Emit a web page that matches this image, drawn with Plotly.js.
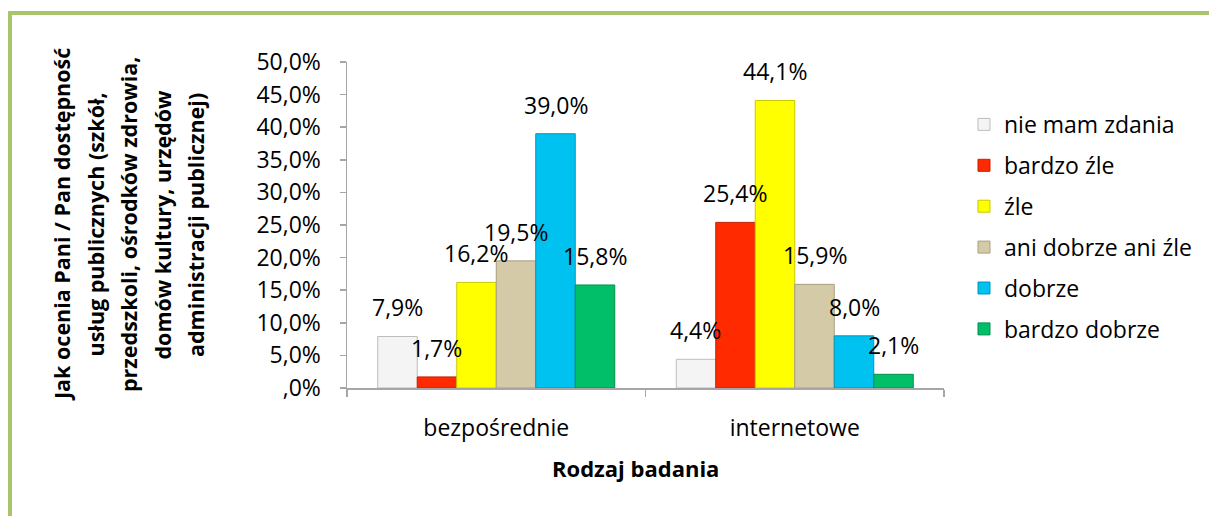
<!DOCTYPE html>
<html>
<head>
<meta charset="utf-8">
<script src="https://cdn.plot.ly/plotly-3.0.1.min.js"></script>
<style>
  html, body { margin: 0; padding: 0; background: #ffffff; }
  #frame { position: absolute; left: 8px; top: 11px; width: 1201px; height: 505px;
           border-top: 4px solid #A9C46B; border-left: 4px solid #A9C46B; box-sizing: border-box; }
  #chart { position: absolute; left: 0; top: 0; width: 1209px; height: 516px; }
</style>
</head>
<body>
<div id="frame"></div>
<div id="chart"></div>
<script>
const categories = ["bezpośrednie", "internetowe"];
const seriesNames = ["nie mam zdania", "bardzo źle", "źle", "ani dobrze ani źle", "dobrze", "bardzo dobrze"];
const nieMamZdania = [7.9, 4.4];
const bardzoZle = [1.7, 25.4];
const zle = [16.2, 44.1];
const aniDobrzeAniZle = [19.5, 15.9];
const dobrze = [39.0, 8.0];
const bardzoDobrze = [15.8, 2.1];
const yTickVals = [0, 5, 10, 15, 20, 25, 30, 35, 40, 45, 50];
const yTickText = [",0%", "5,0%", "10,0%", "15,0%", "20,0%", "25,0%", "30,0%", "35,0%", "40,0%", "45,0%", "50,0%"];
const yTitleLines = ["Jak ocenia Pani / Pan dostępność", "usług publicznych (szkół,", "przedszkoli, ośrodków zdrowia,", "domów kultury, urzędów", "administracji publicznej)"];
const xTitle = "Rodzaj badania";

const seriesValues = [nieMamZdania, bardzoZle, zle, aniDobrzeAniZle, dobrze, bardzoDobrze];
const fills = ["#F4F4F4", "#FF2A00", "#FFFF00", "#D5CAA7", "#00C2F0", "#00BF68"];
const edges = ["#BDBDBD", "#C82000", "#C8C800", "#A89E80", "#0096BA", "#00904E"];

const FONT = "Open Sans, Noto Sans, sans-serif";
const fmt = v => v.toFixed(1).replace(".", ",") + "%";

const traces = seriesValues.map((vals, i) => ({
  type: "bar",
  name: seriesNames[i],
  x: categories,
  y: vals,
  legendgroup: "g" + i,
  marker: { color: fills[i], line: { color: edges[i], width: 1 } },
  hoverinfo: "skip"
}));

// plot geometry
const L = 347, R = 265, T = 62, B = 128, W = 1209, H = 516;
const plotW = W - L - R, plotH = H - T - B;
const bargap = 0.206;
const catW = plotW / categories.length;
const barW = catW * (1 - bargap) / seriesValues.length;

const annotations = [];
seriesValues.forEach((vals, i) => {
  vals.forEach((v, j) => {
    annotations.push({
      xref: "x", yref: "y", x: categories[j], y: v,
      xshift: (i - (seriesValues.length - 1) / 2) * barW,
      yshift: 11,
      yanchor: "bottom", xanchor: "center",
      text: fmt(v), showarrow: false,
      font: { family: FONT, size: 23, color: "#000000" }
    });
  });
});
yTitleLines.forEach((line, k) => {
  annotations.push({
    xref: "paper", yref: "paper",
    x: (61 + k * 33.5 - L) / plotW, y: 0.5,
    xanchor: "center", yanchor: "middle",
    textangle: -90, text: "<b>" + line + "</b>", showarrow: false,
    font: { family: FONT, size: 21.5, color: "#000000" }
  });
});
annotations.push({
  xref: "paper", yref: "paper",
  x: (635 - L) / plotW, y: -(468 - (H - B)) / plotH,
  xanchor: "center", yanchor: "middle",
  text: "<b>" + xTitle + "</b>", showarrow: false,
  font: { family: FONT, size: 22, color: "#000000" }
});

const layout = {
  width: W, height: H,
  margin: { l: L, r: R, t: T, b: B, pad: 0 },
  paper_bgcolor: "rgba(0,0,0,0)",
  plot_bgcolor: "rgba(0,0,0,0)",
  barmode: "group",
  bargap: bargap,
  bargroupgap: 0,
  font: { family: FONT, size: 23, color: "#000000" },
  showlegend: true,
  legend: {
    x: 1.0335, xanchor: "left", y: 0.494, yanchor: "middle",
    traceorder: "grouped", tracegroupgap: 8,
    font: { family: FONT, size: 23, color: "#000000" },
    bgcolor: "rgba(0,0,0,0)"
  },
  xaxis: {
    type: "category",
    showline: true, linecolor: "#A6A6A6", linewidth: 1.5,
    ticks: "outside", tickson: "boundaries", ticklen: 7, tickcolor: "#A6A6A6", tickwidth: 1.5,
    ticklabelstandoff: 19,
    showgrid: false, zeroline: false,
    tickfont: { family: FONT, size: 23, color: "#000000" }
  },
  yaxis: {
    range: [0, 50],
    tickvals: yTickVals, ticktext: yTickText,
    showline: true, linecolor: "#A6A6A6", linewidth: 1.5,
    ticks: "outside", ticklen: 6, tickcolor: "#A6A6A6", tickwidth: 1.5,
    ticklabelstandoff: 14,
    showgrid: false, zeroline: false,
    tickfont: { family: FONT, size: 23, color: "#000000" }
  },
  annotations: annotations
};

Plotly.newPlot("chart", traces, layout, { displayModeBar: false, staticPlot: true });
</script>
</body>
</html>
